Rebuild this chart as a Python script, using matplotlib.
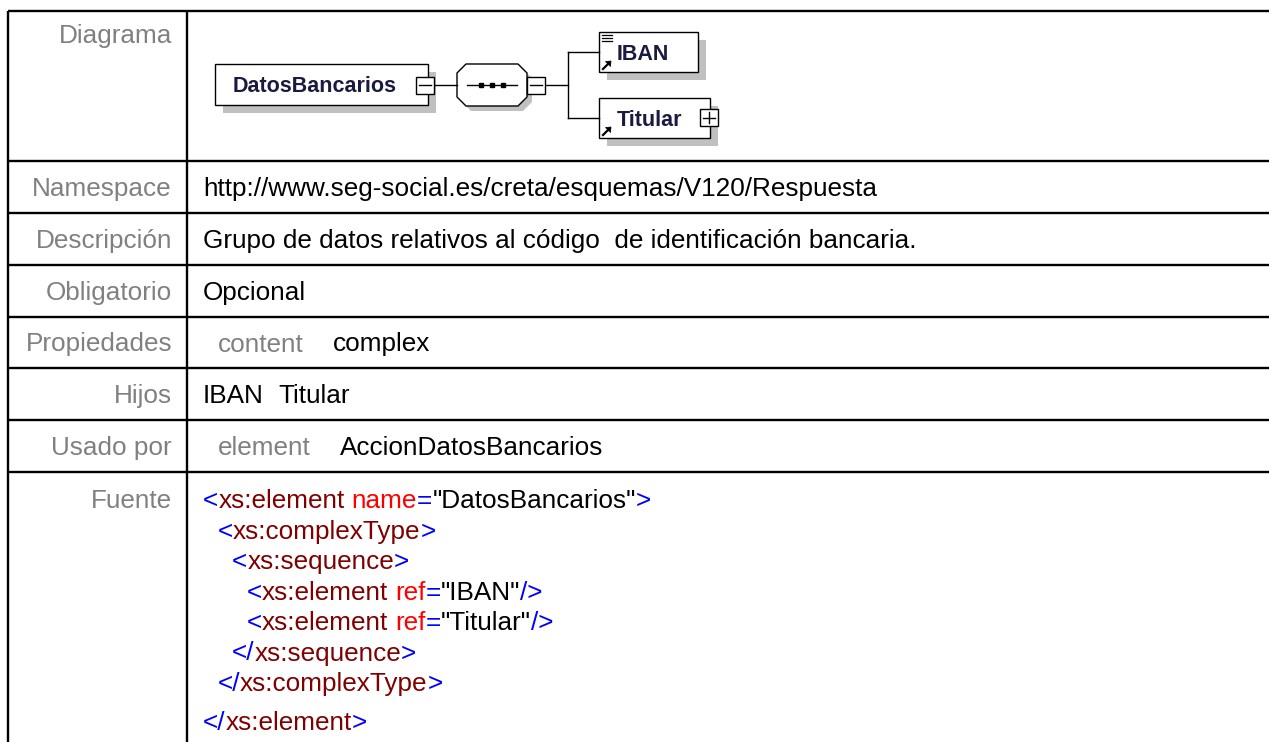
import numpy as np
import matplotlib.pyplot as plt
from matplotlib.patches import Rectangle, Polygon
from matplotlib.font_manager import FontProperties

plt.rcParams['font.family'] = ['Liberation Sans', 'DejaVu Sans']

# Contenido de la tabla
etiquetas = ['Diagrama', 'Namespace', 'Descripción', 'Obligatorio',
             'Propiedades', 'Hijos', 'Usado por', 'Fuente']
raiz = 'DatosBancarios'
namespace = 'http://www.seg-social.es/creta/esquemas/V120/Respuesta'
descripcion = 'Grupo de datos relativos al código  de identificación bancaria.'
obligatorio = 'Opcional'
propiedad_clave = 'content'
propiedad_valor = 'complex'
hijos = ['IBAN', 'Titular']
usado_tipo = 'element'
usado_nombre = 'AccionDatosBancarios'

# Código fuente: (sangría, [(texto, tipo)])  p=signo, e=elemento, a=atributo, v=valor
fuente_niveles = [0, 1, 2, 3, 3, 2, 1, 0]
fuente_tokens = [
    [('<', 'p'), ('xs:element', 'e'), (' ', 'v'), ('name', 'a'), ('=', 'p'),
     ('"DatosBancarios"', 'v'), ('>', 'p')],
    [('<', 'p'), ('xs:complexType', 'e'), ('>', 'p')],
    [('<', 'p'), ('xs:sequence', 'e'), ('>', 'p')],
    [('<', 'p'), ('xs:element', 'e'), (' ', 'v'), ('ref', 'a'), ('=', 'p'),
     ('"IBAN"', 'v'), ('/>', 'p')],
    [('<', 'p'), ('xs:element', 'e'), (' ', 'v'), ('ref', 'a'), ('=', 'p'),
     ('"Titular"', 'v'), ('/>', 'p')],
    [('</', 'p'), ('xs:sequence', 'e'), ('>', 'p')],
    [('</', 'p'), ('xs:complexType', 'e'), ('>', 'p')],
    [('</', 'p'), ('xs:element', 'e'), ('>', 'p')],
]
colores_xml = {'p': '#0000ff', 'e': '#800000', 'a': '#ff0000', 'v': '#000000'}

# Geometría de la tabla (px)
W, H = 1269, 742
bordes = [11, 161, 213, 265, 317, 368, 420, 472]
x_izq, x_col = 8, 187
x_etq, x_val = 172, 203
gris = '#808080'
fs = 18.8

fig = plt.figure(figsize=(W / 100, H / 100), dpi=100)
ax = fig.add_axes([0, 0, 1, 1])
ax.set_xlim(0, W)
ax.set_ylim(H, 0)
ax.set_axis_off()

# líneas de la tabla
for y in bordes:
    ax.plot([x_izq, W + 5], [y, y], color='black', lw=1.7, solid_capstyle='butt')
for x in [x_izq, x_col]:
    ax.plot([x, x], [bordes[0], H + 5], color='black', lw=1.7, solid_capstyle='butt')

# etiquetas
base_etq = [43] + [(bordes[i] + bordes[i + 1]) / 2 + 9 for i in range(1, 7)] + [508]
for nombre, yb in zip(etiquetas, base_etq):
    ax.text(x_etq, yb, nombre, ha='right', va='baseline', fontsize=fs, color=gris)

# valores
ax.text(x_val, base_etq[1], namespace, va='baseline', fontsize=fs, color='black')
ax.text(x_val, base_etq[2], descripcion, va='baseline', fontsize=fs, color='black')
ax.text(x_val, base_etq[3], obligatorio, va='baseline', fontsize=fs, color='black')
ax.text(218, base_etq[4], propiedad_clave, va='baseline', fontsize=fs, color=gris)
ax.text(333, base_etq[4], propiedad_valor, va='baseline', fontsize=fs, color='black')
ax.text(x_val, base_etq[5], hijos[0], va='baseline', fontsize=fs, color='black')
ax.text(278, base_etq[5], hijos[1], va='baseline', fontsize=fs, color='black')
ax.text(218, base_etq[6], usado_tipo, va='baseline', fontsize=fs, color=gris)
ax.text(340, base_etq[6], usado_nombre, va='baseline', fontsize=fs, color='black')

# código fuente coloreado
fig.canvas.draw()
renderer = fig.canvas.get_renderer()
prop = FontProperties(family=['Liberation Sans'], size=fs)


def ancho(s):
    w1 = renderer.get_text_width_height_descent('|' + s + '|', prop, ismath=False)[0]
    w0 = renderer.get_text_width_height_descent('||', prop, ismath=False)[0]
    return w1 - w0


for i, (nivel, tokens) in enumerate(zip(fuente_niveles, fuente_tokens)):
    yb = 508 + 30.5 * i + (8 if i == len(fuente_tokens) - 1 else 0)
    x = x_val + 14.5 * nivel
    for texto, tipo in tokens:
        ax.text(x, yb, texto, va='baseline', fontsize=fs, color=colores_xml[tipo])
        x += ancho(texto)

# ---- diagrama ----
sombra = '#c0c0c0'
texto_caja = '#1a1a40'
lw = 1.0
fs_caja = 15.5


def caja(x0, y0, x1, y1, d=8):
    ax.add_patch(Rectangle((x0 + d, y0 + d), x1 - x0, y1 - y0, facecolor=sombra,
                           edgecolor='none', zorder=2))
    ax.add_patch(Rectangle((x0, y0), x1 - x0, y1 - y0, facecolor='white',
                           edgecolor='black', lw=lw, zorder=3))


def signo(x0, y0, mas=False):
    ax.add_patch(Rectangle((x0, y0), 18, 17, facecolor='white', edgecolor='black',
                           lw=lw, zorder=5))
    ax.plot([x0 + 3, x0 + 15], [y0 + 8.5, y0 + 8.5], color='black', lw=lw, zorder=6)
    if mas:
        ax.plot([x0 + 9, x0 + 9], [y0 + 3, y0 + 14], color='black', lw=lw, zorder=6)


def flecha(x, y):
    ax.plot([x, x + 5], [y, y - 5], color='black', lw=1.6, zorder=6)
    ax.add_patch(Polygon([[x + 8, y - 8], [x + 2.5, y - 7.5], [x + 7.5, y - 2.5]],
                         closed=True, facecolor='black', edgecolor='black', lw=0.5, zorder=6))


yc = 85
# raíz
caja(215, 64, 428, 105)
ax.text(233, yc + 7.5, raiz, va='baseline', fontsize=fs_caja, fontweight='bold',
        color=texto_caja, zorder=6)
signo(416, yc - 8.5)
ax.plot([434, 457], [yc, yc], color='black', lw=lw, zorder=4)

# secuencia (octógono)
ox0, ox1, oy0, oy1, c = 457, 527, 64, 106, 9
pts = [[ox0 + c, oy0], [ox1 - c, oy0], [ox1, oy0 + c], [ox1, oy1 - c],
       [ox1 - c, oy1], [ox0 + c, oy1], [ox0, oy1 - c], [ox0, oy0 + c]]
ax.add_patch(Polygon(np.array(pts) + 5, closed=True, facecolor=sombra, edgecolor='none', zorder=2))
ax.add_patch(Polygon(pts, closed=True, facecolor='white', edgecolor='black', lw=lw, zorder=3))
ax.plot([467, 517], [yc, yc], color='black', lw=lw, zorder=4)
ax.plot([481, 492, 503], [yc, yc, yc], 's', ms=3.2, color='black', zorder=5)
signo(527, yc - 8.5)
ax.plot([545, 568], [yc, yc], color='black', lw=lw, zorder=4)

# hijos
y_hijos = [52, 118]
ax.plot([568, 568], [y_hijos[0], y_hijos[1]], color='black', lw=lw, zorder=4)
anchos_caja = [99, 111]
for nombre, yh, wc in zip(hijos, y_hijos, anchos_caja):
    ax.plot([568, 599], [yh, yh], color='black', lw=lw, zorder=4)
    caja(599, yh - 20, 599 + wc, yh + 20)
    ax.text(617, yh + 7.5, nombre, va='baseline', fontsize=fs_caja, fontweight='bold',
            color=texto_caja, zorder=6)
    flecha(603, yh + 17)
# icono de tipo simple en IBAN
for dy in [3, 6, 9]:
    ax.plot([602, 612], [y_hijos[0] - 20 + dy, y_hijos[0] - 20 + dy], color='black', lw=0.9, zorder=6)
signo(700, y_hijos[1] - 9, mas=True)

fig.savefig('out.png', dpi=100)
